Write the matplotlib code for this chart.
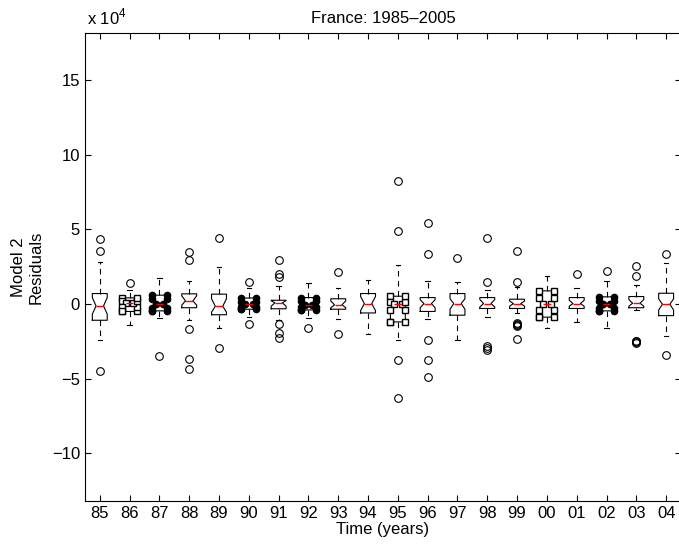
import matplotlib
matplotlib.use("Agg")
import matplotlib.pyplot as plt

plt.rcParams['font.family'] = ['Liberation Sans', 'DejaVu Sans']
plt.rcParams['font.size'] = 12
plt.rcParams['mathtext.fontset'] = 'custom'
plt.rcParams['mathtext.rm'] = 'Liberation Sans'

# residuals in units of 1e4
years = ['85', '86', '87', '88', '89', '90', '91', '92', '93', '94',
         '95', '96', '97', '98', '99', '00', '01', '02', '03', '04']
q1 = [-1.09, -0.50, -0.46, -0.25, -0.72, -0.35, -0.32, -0.40, -0.35, -0.60,
      -1.20, -0.50, -0.75, -0.30, -0.30, -0.88, -0.30, -0.46, -0.25, -0.78]
med = [-0.13, 0.05, 0.00, 0.21, -0.15, -0.02, 0.08, -0.05, -0.05, 0.03,
       0.03, 0.03, 0.03, 0.03, 0.03, 0.00, 0.03, -0.02, 0.05, -0.02]
q3 = [0.70, 0.41, 0.59, 0.68, 0.66, 0.40, 0.25, 0.43, 0.35, 0.70,
      0.52, 0.43, 0.70, 0.43, 0.32, 0.88, 0.43, 0.48, 0.50, 0.72]
notch_lo = [-0.68, -0.20, -0.24, -0.08, -0.55, -0.20, -0.15, -0.20, -0.25, -0.45,
            -0.42, -0.25, -0.35, -0.20, -0.15, -0.40, -0.15, -0.25, -0.15, -0.40]
notch_hi = [0.43, 0.22, 0.32, 0.55, 0.35, 0.15, 0.22, 0.18, 0.20, 0.50,
            0.14, 0.28, 0.35, 0.30, 0.20, 0.40, 0.25, 0.19, 0.30, 0.35]
whis_lo = [-2.43, -1.42, -0.91, -1.09, -1.58, -0.90, -1.04, -0.97, -1.00, -2.02,
           -2.43, -1.02, -2.43, -0.86, -0.60, -1.64, -1.20, -1.64, -0.42, -2.14]
whis_hi = [2.82, 0.92, 1.71, 1.55, 2.49, 1.08, 1.19, 1.41, 1.10, 1.64,
           2.60, 1.55, 1.48, 0.92, 1.15, 1.86, 1.08, 1.55, 1.30, 2.76]
outliers = [
    [4.35, 3.54, -4.5],
    [1.41],
    [-3.48],
    [3.49, 2.94, -1.65, -3.7, -4.35],
    [4.41, -2.94],
    [1.48, -1.31],
    [2.98, 2.04, 1.82, -1.31, -1.94, -2.31],
    [-1.58],
    [2.11, -2.02],
    [],
    [8.23, 4.88, -3.72, -6.31],
    [5.42, 3.38, -2.38, -3.77, -4.88],
    [3.05],
    [4.41, 1.48, -2.83, -2.98, -3.1],
    [3.56, 1.48, -1.25, -1.32, -1.4, -1.45, -2.36],
    [],
    [1.98],
    [2.2],
    [2.55, 1.86, -2.45, -2.5, -2.55, -2.6],
    [3.32, -3.43],
]
# boxes drawn with vertex markers
square_boxes = ['86', '95', '00']
dot_boxes = ['87', '90', '92', '02']

stats = []
for i in range(len(years)):
    stats.append(dict(q1=q1[i], med=med[i], q3=q3[i], cilo=notch_lo[i], cihi=notch_hi[i],
                      whislo=whis_lo[i], whishi=whis_hi[i], fliers=outliers[i]))
positions = list(range(1, len(years) + 1))

fig = plt.figure(figsize=(6.79, 5.46), dpi=100)
ax = fig.add_axes([0.125, 0.0824, 0.878, 0.857])

common = dict(
    widths=0.5, shownotches=True, capwidths=0.15,
    whiskerprops=dict(color='k', linewidth=0.8, linestyle=(0, (5, 4))),
    capprops=dict(color='k', linewidth=0.8),
    medianprops=dict(color='red', linewidth=1.0),
    flierprops=dict(marker='o', markerfacecolor='none', markeredgecolor='k',
                    markersize=5.5, markeredgewidth=0.8),
    manage_ticks=False,
)

groups = [
    ([y for y in years if y not in square_boxes + dot_boxes], dict(color='k', linewidth=0.8)),
    (square_boxes, dict(color='k', linewidth=0.8, marker='s', markersize=4,
                        markerfacecolor='white', markeredgecolor='k')),
    (dot_boxes, dict(color='k', linewidth=0.8, marker='o', markersize=4.5,
                     markerfacecolor='k', markeredgecolor='k')),
]
for names, bprops in groups:
    idx = [years.index(n) for n in names]
    ax.bxp([stats[i] for i in idx], positions=[positions[i] for i in idx],
           boxprops=bprops, **common)

ax.set_xlim(0.5, 20.5)
ax.set_ylim(-13.2, 18.15)
ax.set_xticks(positions)
ax.set_xticklabels(years)
ax.set_yticks([-10, -5, 0, 5, 10, 15])
ax.tick_params(direction='in', top=True, right=True, length=4, width=0.8)
for s in ax.spines.values():
    s.set_linewidth(0.8)

ax.text(0.004, 1.012, r'x 10$^{\mathrm{4}}$', transform=ax.transAxes,
        ha='left', va='bottom')
ax.set_title('France: 1985\u20132005', pad=7, fontsize=12)
ax.set_xlabel('Time (years)', labelpad=1)
ax.set_ylabel('Model 2\nResiduals', labelpad=6)

fig.savefig('out.png', dpi=100)
